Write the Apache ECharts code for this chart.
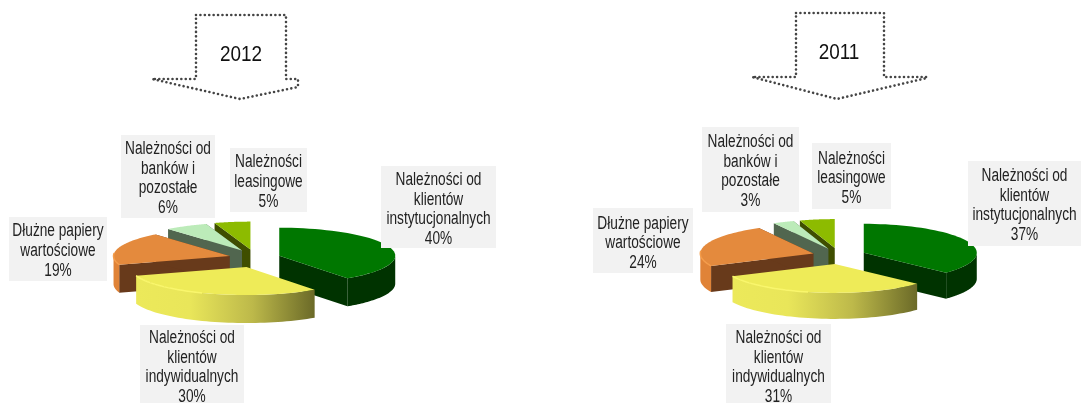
<!DOCTYPE html>
<html>
<head>
<meta charset="utf-8">
<style>html,body{margin:0;padding:0;background:#fff}#c{width:1081px;height:403px}</style>
<script src="https://cdn.jsdelivr.net/npm/echarts@6/dist/echarts.min.js"></script>
</head>
<body>
<div id="c"></div>
<script>
// Shares of the asset structure, per year, in percent.
var categories = [
  'Należności od\nklientów\ninstytucjonalnych',
  'Należności od\nklientów\nindywidualnych',
  'Dłużne papiery\nwartościowe',
  'Należności od\nbanków i\npozostałe',
  'Należności\nleasingowe'
];
var years = ['2012', '2011'];
var values2012 = [40, 30, 19, 6, 5];
var values2011 = [37, 31, 24, 3, 5];

// Slice colours: top face, cut wall, rim wall, optional rim highlight.
var palette = [
  { top: '#007700', wall: '#003300', rim: '#003300' },
  { top: '#EEEB58', wall: '#8f8c30', rim: 'grad', glow: '#F9F66C', glowFrom: 0.55, glowTo: 1 },
  { top: '#E48A3D', wall: '#683A1B', rim: '#E08337', glow: '#F49C4A', glowFrom: 0, glowTo: 0.35 },
  { top: '#BCEBB9', wall: '#51664F', rim: '#51664F' },
  { top: '#8DBB00', wall: '#3F4E00', rim: '#3F4E00' }
];
// Back-to-front painting order of the exploded slices.
var paintOrder = [4, 3, 0, 2, 1];

// Pie geometry, arrow outline and label boxes (x, y, w, h, text shift), boxes in category order.
var layouts = [
  {
    cx: 254.5, cy: 258.5, rx: 116, ry: 28, depth: 28, ex: 26, ey: 9,
    arrow: { l: 152, bl: 196, br: 286, r: 298, top: 15, neck: 79, wing: 87, tip: 99, tipX: 240 },
    yearX: 241, yearY: 55,
    boxes: [[381, 166, 115, 82, 2.5], [140, 325, 104, 78, 3.5], [9, 217, 98, 64, 2], [121, 135, 94, 83, 2], [230, 148, 77, 64, 2]]
  },
  {
    cx: 839, cy: 256, rx: 113, ry: 29, depth: 26, ex: 27, ey: 8,
    arrow: { l: 752, bl: 796, br: 884, r: 927, top: 13, neck: 77, wing: 78, tip: 99, tipX: 837 },
    yearX: 839, yearY: 53,
    boxes: [[968, 161, 113, 85, 2], [726, 324, 105, 79, 4], [593, 208, 100, 65, 3], [702, 127, 97, 85, 2], [812, 143, 79, 66, 2.5]]
  }
];
var FONT = '"Liberation Sans", sans-serif';
var STEPS = 48;

function pt(c, a, rx, ry) {
  return [c[0] + rx * Math.sin(a), c[1] - ry * Math.cos(a)];
}

function arcPoints(c, from, to, rx, ry) {
  var pts = [];
  for (var i = 0; i <= STEPS; i++) {
    pts.push(pt(c, from + (to - from) * i / STEPS, rx, ry));
  }
  return pts;
}

// Draws one exploded slice: walls first, then the top face.
function sliceShapes(values, layout, idx) {
  var total = values.reduce(function (s, v) { return s + v; }, 0);
  var before = values.slice(0, idx).reduce(function (s, v) { return s + v; }, 0);
  var a0 = before / total * Math.PI * 2;
  var a1 = (before + values[idx]) / total * Math.PI * 2;
  var mid = (a0 + a1) / 2;
  var c = [layout.cx + layout.ex * Math.sin(mid), layout.cy - layout.ey * Math.cos(mid)];
  var rx = layout.rx, ry = layout.ry, d = layout.depth;
  var col = palette[idx];

  var arc = arcPoints(c, a0, a1, rx, ry);
  var shapes = [];
  function poly(points, fill) {
    shapes.push({ type: 'polygon', shape: { points: points }, style: { fill: fill }, silent: true });
  }
  function down(p) { return [p[0], p[1] + d]; }

  var e0 = arc[0], e1 = arc[arc.length - 1];
  // Radial cut walls; the yellow slice keeps them hidden behind its rim.
  if (idx !== 1) {
    poly([c, e0, down(e0), down(c)], col.wall);
    poly([c, e1, down(e1), down(c)], col.wall);
  }
  // Rim wall: only the arc between 3 and 9 o'clock faces the viewer.
  var lo = Math.max(a0, Math.PI / 2), hi = Math.min(a1, Math.PI * 1.5);
  if (hi > lo) {
    var front = arcPoints(c, lo, hi, rx, ry);
    var rimFill = col.rim;
    if (rimFill === 'grad') {
      rimFill = new echarts.graphic.LinearGradient(0, 0, 1, 0, [
        { offset: 0, color: '#ECE95A' },
        { offset: 0.3, color: '#E9E65A' },
        { offset: 0.65, color: '#BDB94A' },
        { offset: 1, color: '#6B6A28' }
      ]);
    }
    poly(front.concat(front.map(down).reverse()), rimFill);
  }
  // Top face.
  poly([c].concat(arc), col.top);
  // Thin light edge where the top meets the rim.
  if (col.glow) {
    shapes.push({
      type: 'polyline', silent: true,
      shape: { points: arc.slice(Math.round(STEPS * col.glowFrom), Math.round(STEPS * col.glowTo) + 1) },
      style: { fill: 'none', stroke: col.glow, lineWidth: 1.5 }
    });
  }
  return shapes;
}

function pieSeries(values, layout) {
  return {
    type: 'custom',
    coordinateSystem: 'none',
    silent: true,
    animation: false,
    z: 2,
    data: paintOrder.map(function (i) { return [i, values[i]]; }),
    renderItem: function (params, api) {
      return { type: 'group', children: sliceShapes(values, layout, api.value(0)) };
    }
  };
}

function labelSeries(values, layout) {
  return {
    type: 'custom',
    coordinateSystem: 'none',
    silent: true,
    animation: false,
    z: 3,
    data: values.map(function (v, i) { return [i, v]; }),
    renderItem: function (params, api) {
      var idx = api.value(0);
      var b = layout.boxes[idx];
      return {
        type: 'group',
        children: [
          { type: 'rect', shape: { x: b[0], y: b[1], width: b[2], height: b[3] }, style: { fill: '#F2F2F2' } },
          {
            type: 'text',
            x: b[0] + b[2] / 2, y: b[1] + b[3] / 2 + b[4],
            scaleX: 0.76,
            style: {
              x: 0, y: 0,
              text: categories[idx] + '\n' + api.value(1) + '%',
              align: 'center', verticalAlign: 'middle',
              font: '18px ' + FONT, lineHeight: 19.7, fill: '#222'
            }
          }
        ]
      };
    }
  };
}

function arrowGraphic(layout, year) {
  var a = layout.arrow;
  return [
    {
      type: 'polygon', silent: true,
      shape: { points: [[a.bl, a.top], [a.br, a.top], [a.br, a.neck], [a.r, a.neck], [a.r, a.wing], [a.tipX, a.tip], [a.l, a.neck], [a.bl, a.neck]] },
      style: { fill: 'none', stroke: '#444', lineWidth: 2.6, lineDash: [0.01, 4.4], lineCap: 'round' }
    },
    {
      type: 'text', silent: true,
      x: layout.yearX, y: layout.yearY, scaleX: 0.86,
      style: { x: 0, y: 0, text: year, align: 'center', verticalAlign: 'middle', font: '22px ' + FONT, fill: '#111' }
    }
  ];
}

var chart = echarts.init(document.getElementById('c'), null, { renderer: 'canvas' });
chart.setOption({
  backgroundColor: '#fff',
  animation: false,
  graphic: { elements: arrowGraphic(layouts[0], years[0]).concat(arrowGraphic(layouts[1], years[1])) },
  series: [
    pieSeries(values2012, layouts[0]),
    pieSeries(values2011, layouts[1]),
    labelSeries(values2012, layouts[0]),
    labelSeries(values2011, layouts[1])
  ]
});
</script>
</body>
</html>
